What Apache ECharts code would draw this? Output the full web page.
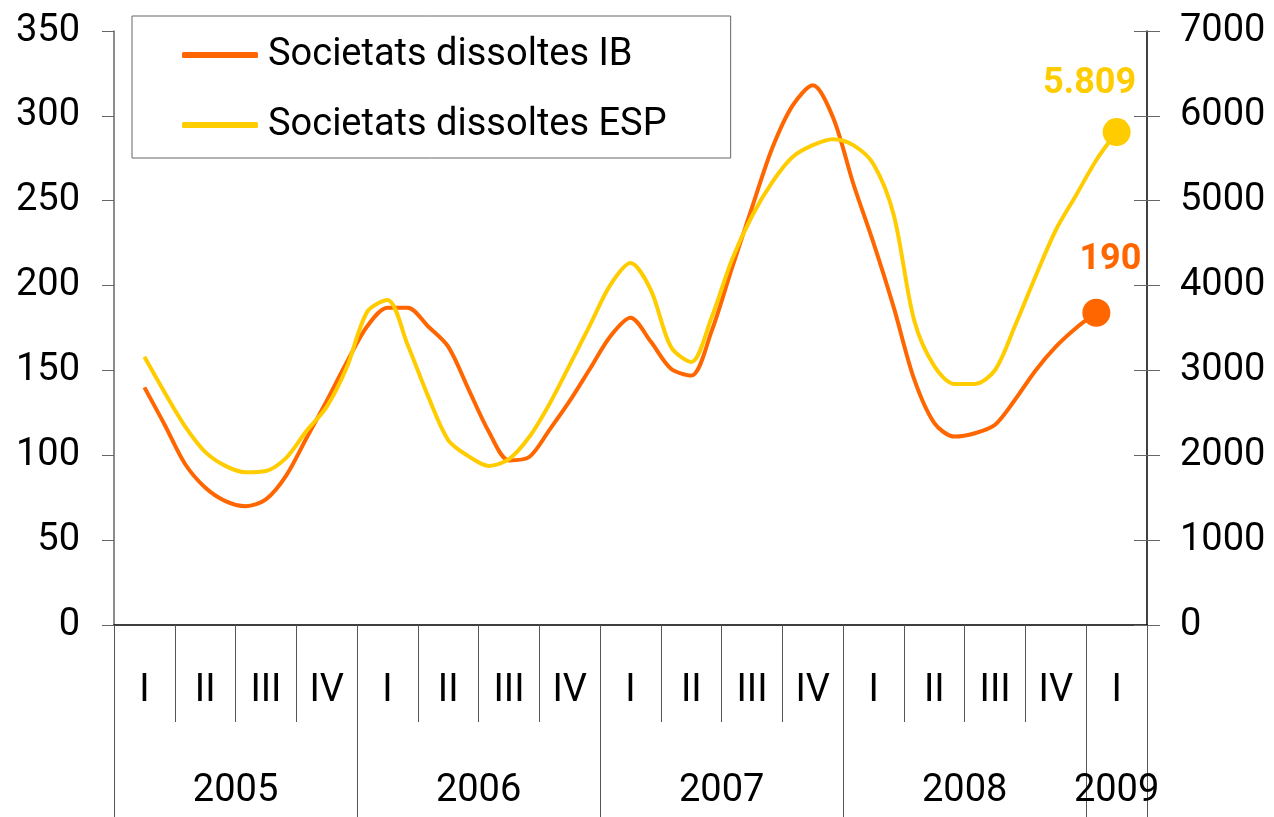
<!DOCTYPE html>
<html>
<head>
<meta charset="utf-8">
<script src="https://cdn.jsdelivr.net/npm/echarts@6/dist/echarts.min.js"></script>
<style>
  html, body { margin: 0; padding: 0; background: #fff; }
  #chart { width: 1274px; height: 817px; }
</style>
</head>
<body>
<div id="chart"></div>
<script>
// quarters on the axis, 2005 I .. 2009 I
const quarterLabels = ['I','II','III','IV','I','II','III','IV','I','II','III','IV','I','II','III','IV','I'];
const yearLabels = ['2005','2006','2007','2008','2009'];
const quartersPerYear = [4, 4, 4, 4, 1];

// monthly values, first point = centre of 2005 I
const ibValues = [140, 118, 95, 81, 73, 70, 74, 88, 110, 132, 155, 176, 187, 187, 176, 164, 139, 114, 97, 99,
  115, 132, 151, 170, 181, 167, 151, 147, 173, 210, 246, 281, 306, 318, 299, 260, 225, 187, 145, 119,
  111, 113, 118, 133, 150, 164, 175, 184];
const espValues = [3160, 2740, 2345, 2040, 1875, 1800, 1815, 1970, 2285, 2570, 3040, 3690, 3830, 3300, 2700, 2180, 1990, 1875, 1955, 2215,
  2605, 3065, 3535, 4005, 4265, 3950, 3275, 3100, 3620, 4300, 4820, 5220, 5515, 5655, 5725, 5655, 5430, 4830, 3595, 3050,
  2840, 2840, 3005, 3535, 4110, 4655, 5065, 5480, 5809];
const endLabels = { ib: '190', esp: '5.809' };

const FONT = 'Roboto';
const IB_COLOR = '#FF6600';
const ESP_COLOR = '#FFCC00';

// year boundaries and centres, in quarter units
let yearTicks = [0], yearCenters = [], acc = 0;
for (let n of quartersPerYear) {
  yearCenters.push(acc + n / 2);
  acc += n;
  yearTicks.push(acc);
}

function buildData(values, label, offset, color) {
  let last = values.length - 1;
  return values.map((v, i) => {
    if (i !== last) return [i, v];
    return {
      value: [i, v],
      symbolSize: 28,
      label: {
        show: true, position: 'top', distance: 5, offset: offset,
        formatter: label, color: color,
        fontFamily: FONT, fontSize: 36, fontWeight: 'bold'
      }
    };
  });
}

let myChart = echarts.init(document.getElementById('chart'));
let option = {
  animation: false,
  grid: { left: 114, right: 127, top: 31, bottom: 192, containLabel: false },
  legend: {
    left: 132, top: 16,
    orient: 'vertical',
    padding: [20, 64, 14, 50],
    itemGap: 32,
    itemWidth: 76, itemHeight: 6,
    icon: 'roundRect',
    borderColor: '#666', borderWidth: 1,
    textStyle: { fontFamily: FONT, fontSize: 38, color: '#000', padding: [0, 0, 0, 5] },
    data: ['Societats dissoltes IB', 'Societats dissoltes ESP']
  },
  xAxis: [
    {
      type: 'category',
      data: quarterLabels,
      position: 'bottom',
      boundaryGap: true,
      axisLine: { onZero: false, lineStyle: { color: '#000', width: 1.5 } },
      axisTick: { show: true, interval: 0, length: 97, lineStyle: { color: '#555' } },
      axisLabel: { interval: 0, margin: 47, fontFamily: FONT, fontSize: 38, color: '#000' }
    },
    {
      type: 'value',
      min: 0, max: quarterLabels.length,
      position: 'bottom',
      axisLine: { show: false, onZero: false },
      splitLine: { show: false },
      axisTick: { show: true, customValues: yearTicks, length: 200, lineStyle: { color: '#555' } },
      axisLabel: {
        customValues: yearCenters, margin: 147,
        fontFamily: FONT, fontSize: 38, color: '#000',
        formatter: (v) => yearLabels[yearCenters.indexOf(v)]
      }
    },
    {
      type: 'value',
      min: -1.5, max: quarterLabels.length * 3 - 1.5,
      axisLine: { onZero: false },
      show: false
    }
  ],
  yAxis: [
    {
      type: 'value', position: 'left',
      min: 0, max: 350, interval: 50,
      splitLine: { show: false },
      axisLine: { show: true, onZero: false, lineStyle: { color: '#666', width: 1.5 } },
      axisTick: { show: true, length: 12, lineStyle: { color: '#666' } },
      axisLabel: { margin: 34, fontFamily: FONT, fontSize: 38, color: '#000', formatter: (v) => String(v) }
    },
    {
      type: 'value', position: 'right',
      min: 0, max: 7000, interval: 1000,
      splitLine: { show: false },
      axisLine: { show: true, onZero: false, lineStyle: { color: '#000', width: 1.5 } },
      axisTick: { show: true, length: 13, lineStyle: { color: '#666' } },
      axisLabel: { margin: 33, fontFamily: FONT, fontSize: 38, color: '#000', formatter: (v) => String(v) }
    },
    {
      type: 'value', position: 'right',
      min: 0, max: 7000, interval: 1000,
      splitLine: { show: false },
      axisLine: { show: false, onZero: false },
      axisTick: { show: true, inside: true, length: 13, lineStyle: { color: '#666' } },
      axisLabel: { show: false }
    }
  ],
  series: [
    {
      name: 'Societats dissoltes IB',
      type: 'line',
      xAxisIndex: 2, yAxisIndex: 0,
      smooth: 0.3,
      symbol: 'circle', symbolSize: 0, showAllSymbol: true,
      lineStyle: { width: 4, color: IB_COLOR },
      itemStyle: { color: IB_COLOR },
      data: buildData(ibValues, endLabels.ib, [14, -16], IB_COLOR)
    },
    {
      name: 'Societats dissoltes ESP',
      type: 'line',
      xAxisIndex: 2, yAxisIndex: 1,
      smooth: 0.3,
      symbol: 'circle', symbolSize: 0, showAllSymbol: true,
      lineStyle: { width: 4, color: ESP_COLOR },
      itemStyle: { color: ESP_COLOR },
      data: buildData(espValues, endLabels.esp, [-27, -11], ESP_COLOR)
    }
  ]
};
myChart.setOption(option);
</script>
</body>
</html>
